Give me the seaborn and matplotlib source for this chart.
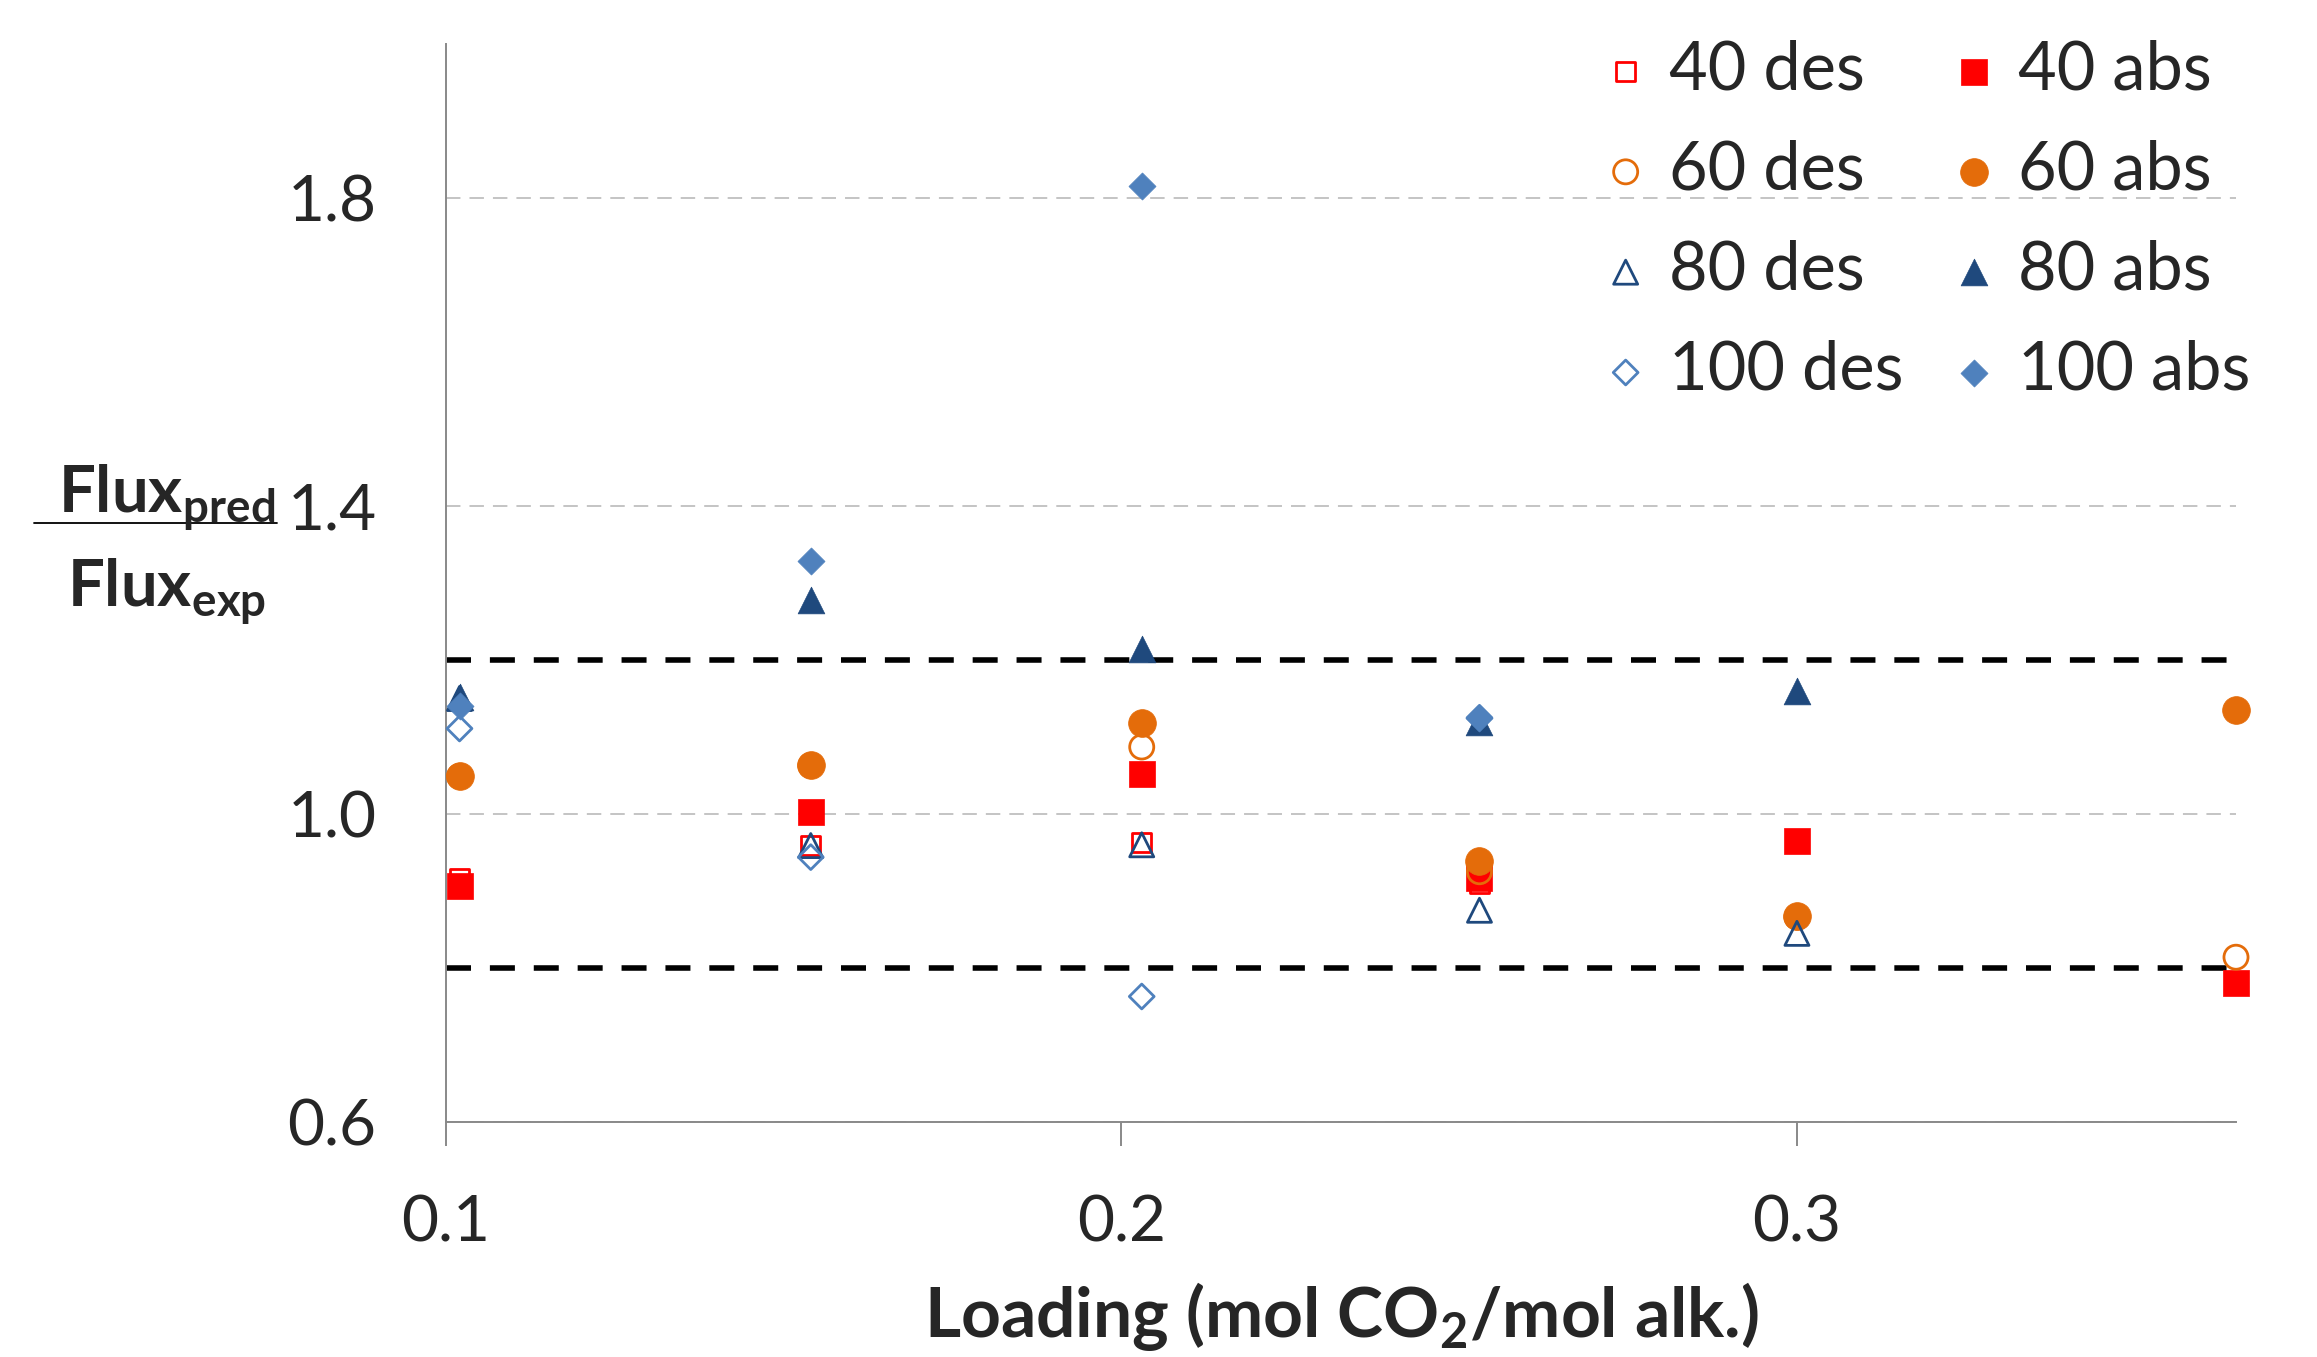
import matplotlib
matplotlib.use("Agg")
import matplotlib.pyplot as plt
from matplotlib.lines import Line2D
import numpy as np
import seaborn as sns

# loading (mol CO2 / mol alk.) at which the fluxes were measured
loading = [0.102, 0.154, 0.203, 0.253, 0.300, 0.365]

# Flux_pred / Flux_exp for each temperature, desorption and absorption
des_40 = [0.917, 0.959, 0.963, 0.910, 0.965, 0.780]
abs_40 = [0.907, 1.002, 1.052, 0.917, 0.965, 0.780]
des_60 = [1.049, 1.063, 1.087, 0.925, 0.866, 0.814]
abs_60 = [1.049, 1.064, 1.118, 0.939, 0.868, 1.135]
des_80 = [1.150, 0.959, 0.960, 0.875, 0.845, np.nan]
abs_80 = [1.152, 1.278, 1.214, 1.120, 1.160, np.nan]
des_100 = [1.111, 0.944, 0.763, 1.125, np.nan, np.nan]
abs_100 = [1.140, 1.329, 1.815, 1.125, np.nan, np.nan]

band_limits = [0.8, 1.2]
y_ticks = [0.6, 1.0, 1.4, 1.8]
x_ticks = [0.1, 0.2, 0.3]
x_tick_labels = ["0.1", "0.2", "0.3"]

RED = "#FF0000"
ORANGE = "#E46C0A"
NAVY = "#1F497D"
BLUE = "#4F81BD"

# (label, values, marker, size, colour, filled) in the drawing order of the original
series = [
    ("40 des", des_40, "s", 180, RED, False),
    ("40 abs", abs_40, "s", 330, RED, True),
    ("60 des", des_60, "o", 300, ORANGE, False),
    ("60 abs", abs_60, "o", 400, ORANGE, True),
    ("80 des", des_80, "^", 300, NAVY, False),
    ("80 abs", abs_80, "^", 370, NAVY, True),
    ("100 des", des_100, "D", 160, BLUE, False),
    ("100 abs", abs_100, "D", 190, BLUE, True),
]

sns.set_style("white")
plt.rcParams["font.family"] = ["Lato", "DejaVu Sans"]
plt.rcParams["mathtext.fontset"] = "custom"
plt.rcParams["mathtext.rm"] = "Lato"
plt.rcParams["mathtext.bf"] = "Lato:bold"

fig, ax = plt.subplots(figsize=(23.17, 13.57), dpi=100)
fig.subplots_adjust(left=446 / 2317, right=2236 / 2317,
                    bottom=1 - 1122 / 1357, top=1 - 44 / 1357)

for label, values, marker, size, color, filled in series:
    sns.scatterplot(
        x=loading,
        y=values,
        marker=marker,
        s=size,
        color=color,
        facecolor=color if filled else "none",
        edgecolor=color,
        linewidth=0.5 if filled else 2.0,
        label=label,
        zorder=3,
        clip_on=False,
        ax=ax
    )

for level in band_limits:
    ax.axhline(level, color="black", linewidth=4, linestyle=(0, (4.5, 3.4)),
               zorder=2)

ax.set_xlim(0.1, 0.365)
ax.set_ylim(0.6, 2.0)
ax.set_xticks(x_ticks)
ax.set_xticklabels(x_tick_labels)
ax.set_yticks(y_ticks)
ax.set_yticklabels([f"{v:.1f}" for v in y_ticks])

ax.yaxis.grid(True, color="#BFBFBF", linewidth=1.3, linestyle=(0, (8, 5)))
ax.xaxis.grid(False)
for side in ["top", "right"]:
    ax.spines[side].set_visible(False)
for side in ["left", "bottom"]:
    ax.spines[side].set_color("#898989")
    ax.spines[side].set_linewidth(1.4)

ax.tick_params(axis="x", length=17, width=1.4, color="#898989", pad=35,
               labelsize=46, direction="out", bottom=True)
ax.tick_params(axis="y", length=0, pad=50, labelsize=46)

ax.set_xlabel(r"Loading (mol CO$_{\mathbf{2}}$/mol alk.)", fontsize=50,
              fontweight="bold", labelpad=20)

# y label drawn as a fraction
fig.text(167 / 2317, 1 - 513 / 1357, r"$\mathbf{Flux}_{\mathbf{pred}}$",
         ha="center", va="baseline", fontsize=47)
fig.text(167 / 2317, 1 - 607 / 1357, r"$\mathbf{Flux}_{\mathbf{exp}}$",
         ha="center", va="baseline", fontsize=47)
fig.add_artist(Line2D([34 / 2317, 277 / 2317], [1 - 523 / 1357] * 2,
                      color="black", linewidth=1.3))

handles, labels = ax.get_legend_handles_labels()
order = [0, 2, 4, 6, 1, 3, 5, 7]
ax.legend(
    [handles[i] for i in order],
    [labels[i] for i in order],
    ncol=2,
    loc="upper left",
    bbox_to_anchor=(1599 / 2317, 1 - 39 / 1357),
    bbox_transform=fig.transFigure,
    frameon=False,
    fontsize=48,
    handlelength=0.8,
    handletextpad=0.25,
    columnspacing=0.66,
    labelspacing=0.575,
    borderpad=0,
    borderaxespad=0,
    markerscale=1.0
)

fig.savefig("out.png", dpi=100)
